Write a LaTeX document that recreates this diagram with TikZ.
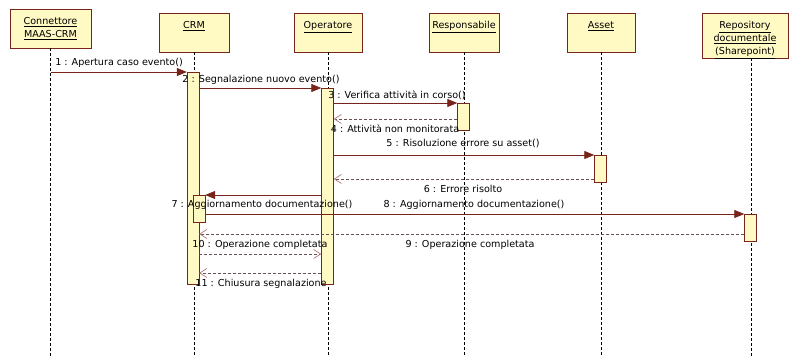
\documentclass[tikz,border=0pt]{standalone}
\usepackage{fontspec}
\setmainfont{DejaVu Sans}
\usetikzlibrary{arrows.meta}
\definecolor{objfill}{RGB}{255,249,196}
\definecolor{objedge}{RGB}{120,36,26}
\definecolor{retline}{RGB}{105,80,80}
\definecolor{rettip}{RGB}{175,120,120}

\begin{document}
\begin{tikzpicture}[x=1pt,y=-1pt,font=\fontsize{9.6}{13}\selectfont,
  head/.style={draw=objedge,fill=objfill,anchor=north,minimum height=39pt,inner sep=0pt},
  hd/.style={label={[anchor=north,align=center,inner sep=5pt,yshift=-3.5pt]north:{#1}}},
  bar/.style={draw=objedge,fill=objfill,anchor=north,minimum width=12pt,inner sep=0pt},
  life/.style={dash pattern=on 3pt off 2pt,line width=0.7pt},
  call/.style={draw=objedge,line width=0.8pt,-{Triangle[length=10pt,width=8pt]}},
  back/.style={draw=retline,line width=0.7pt,dash pattern=on 3pt off 2pt,
    -{Straight Barb[length=7pt,width=9pt,color=rettip]}},
  lbl/.style={inner sep=0pt}]
\useasboundingbox (0,0) rectangle (790,356);

% objects
\node[head,minimum width=81pt,hd={\underline{Connettore}\\\underline{MAAS-CRM}}] (con) at (50.5,9) {};
\node[head,minimum width=70pt,hd=\underline{CRM}] (crm) at (194,13) {};
\node[head,minimum width=68pt,hd=\underline{Operatore}] (op) at (328,13) {};
\node[head,minimum width=70pt,hd=\underline{Responsabile}] (resp) at (464,13) {};
\node[head,minimum width=68pt,hd=\underline{Asset}] (asset) at (601,13) {};
\node[head,minimum width=86pt,minimum height=45pt,
  hd={\underline{Repository}\\\underline{documentale}\\\underline{(Sharepoint)}}] (repo) at (745,13) {};

% lifelines
\foreach \o in {con,crm,op,resp,asset}
  \draw[life] (\o.south) -- (\o.south |- 0,356);
\draw[life] ([xshift=6pt]repo.south) -- ([xshift=6pt]repo.south |- 0,356);

% activations
\node[bar,minimum height=212pt] (crmA) at (193,72) {};
\node[bar,minimum height=196pt] (opA) at (327.5,88) {};
\node[bar,minimum height=27pt] (respA) at (463.5,103) {};
\node[bar,minimum height=27pt] (assetA) at (600.5,155) {};
\node[bar,minimum height=27pt] (crmB) at (199,195) {};
\node[bar,minimum height=27pt] (repoA) at (750.5,214) {};

% messages
\draw[call] (con.south |- 0,72) -- (crmA.west |- 0,72);
\draw[call] (crmA.east |- 0,88) -- (opA.west |- 0,88);
\draw[call] (opA.east |- 0,103) -- (respA.west |- 0,103);
\draw[back] (respA.west |- 0,119) -- (opA.east |- 0,119);
\draw[call] (opA.east |- 0,155) -- (assetA.west |- 0,155);
\draw[back] (assetA.west |- 0,179) -- (opA.east |- 0,179);
\draw[call] (opA.west |- 0,195) -- (crmB.east |- 0,195);
\draw[call] (crmB.east |- 0,214) -- (repoA.west |- 0,214);
\draw[back] (repoA.west |- 0,234) -- (crmA.east |- 0,234);
\draw[back] (crmA.east |- 0,254) -- (opA.west |- 0,254);
\draw[back] (opA.west |- 0,273) -- (crmA.east |- 0,273);

% labels
\node[lbl] (m1) at (119,63) {1 : Apertura caso evento()};
\node[lbl] (m2) at (261,80) {2 : Segnalazione nuovo evento()};
\node[lbl] (m3) at (397,95) {3 : Verifica attività in corso()};
\node[lbl] (m4) at (395,129) {4 : Attività non monitorata};
\node[lbl] (m5) at (463,143) {5 : Risoluzione errore su asset()};
\node[lbl] (m6) at (463,189) {6 : Errore risolto};
\node[lbl] (m7) at (262,205) {7 : Aggiornamento documentazione()};
\node[lbl] (m8) at (474,205) {8 : Aggiornamento documentazione()};
\node[lbl] (m9) at (470,245) {9 : Operazione completata};
\node[lbl] (m10) at (260,245) {10 : Operazione completata};
\node[lbl] (m11) at (261,284) {11 : Chiusura segnalazione};
\end{tikzpicture}
\end{document}
